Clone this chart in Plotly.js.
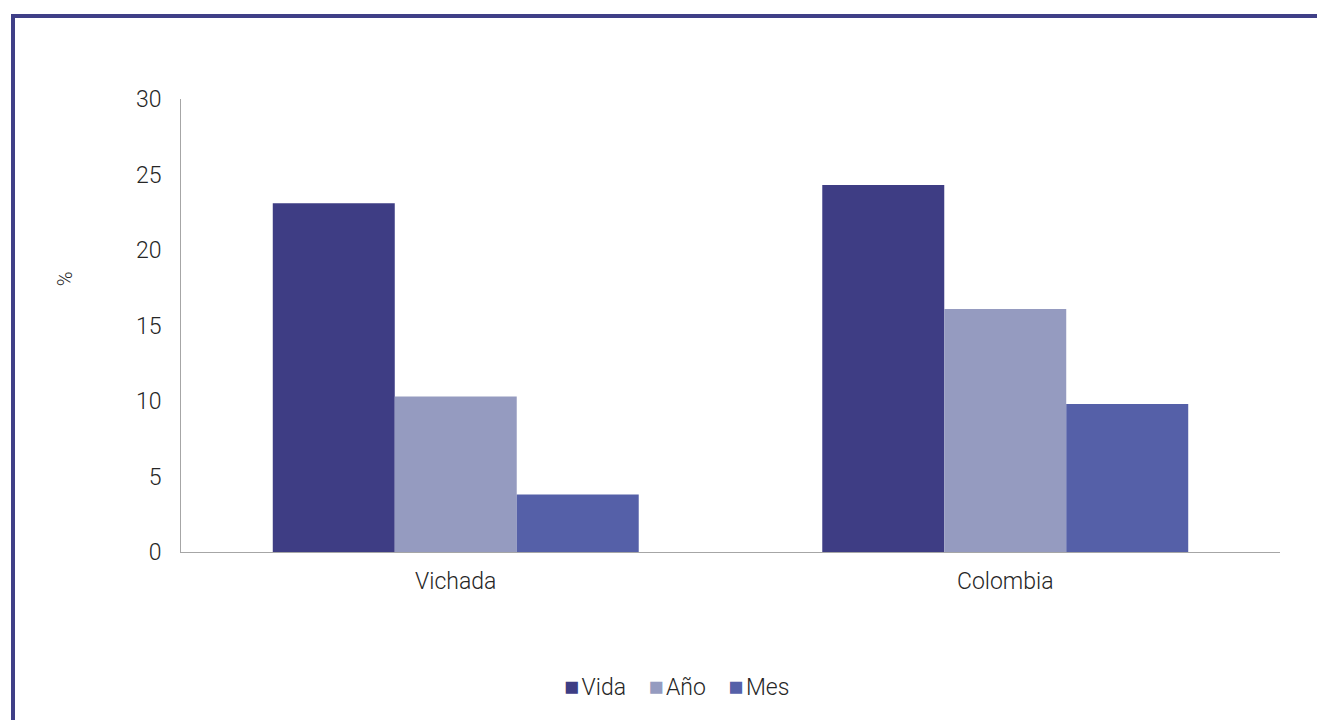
<!DOCTYPE html>
<html>
<head>
<meta charset="utf-8">
<script src="https://cdn.plot.ly/plotly-3.0.1.min.js"></script>
<style>
  html, body { margin: 0; padding: 0; background: #fff; }
  #wrap { position: relative; width: 1317px; height: 720px; overflow: hidden; }
  #chart { position: absolute; left: 0; top: 0; width: 1317px; height: 720px; }
  #btop { position: absolute; left: 11px; top: 14px; width: 1306px; height: 4px; background: #3F3F87; }
  #bleft { position: absolute; left: 11px; top: 14px; width: 4px; height: 706px; background: #3F3F87; }
</style>
</head>
<body>
<div id="wrap">
  <div id="chart"></div>
  <div id="btop"></div>
  <div id="bleft"></div>
</div>
<script>
const categories = ["Vichada", "Colombia"];
const seriesNames = ["Vida", "Año", "Mes"];
const vida = [23.1, 24.3];
const anio = [10.3, 16.1];
const mes = [3.8, 9.8];
const yTicks = [0, 5, 10, 15, 20, 25, 30];
const colors = ["#3E3D84", "#959BC0", "#5560A8"];

const font = { family: "Roboto, sans-serif", size: 23, color: "#262626", weight: 300 };

const traces = [vida, anio, mes].map((vals, i) => ({
  type: "bar",
  name: seriesNames[i],
  x: categories,
  y: vals,
  marker: { color: colors[i] },
  hoverinfo: "none"
}));

const legendText = seriesNames.map((n, i) =>
  '<span style="color:' + colors[i] + ';font-size:25px">■</span>' +
  '<span style="font-size:10px">&nbsp;</span>' + n).join('&nbsp;&nbsp;&nbsp;&nbsp;');

const layout = {
  width: 1317,
  height: 720,
  margin: { l: 181, r: 37, t: 99, b: 168 },
  paper_bgcolor: "#ffffff",
  plot_bgcolor: "#ffffff",
  font: font,
  barmode: "group",
  bargap: 0.334,
  bargroupgap: 0,
  showlegend: false,
  xaxis: {
    type: "category",
    showline: true,
    linecolor: "#A6A6A6",
    linewidth: 1,
    ticks: "",
    showgrid: false,
    zeroline: false,
    tickfont: font,
    ticklabelstandoff: 8,
    fixedrange: true
  },
  yaxis: {
    range: [0, 30],
    tickvals: yTicks,
    ticktext: yTicks.map(String),
    showline: true,
    linecolor: "#A6A6A6",
    linewidth: 1,
    ticks: "",
    showgrid: false,
    zeroline: false,
    tickfont: font,
    ticklabelstandoff: 14,
    fixedrange: true
  },
  annotations: [{
    text: "%",
    xref: "paper", yref: "paper",
    x: -0.1056, y: 0.604,
    xanchor: "center", yanchor: "middle",
    textangle: -90,
    showarrow: false,
    font: { family: "Roboto, sans-serif", size: 20, color: "#262626", weight: 300 }
  }, {
    text: legendText,
    xref: "paper", yref: "paper",
    x: 0.4505, y: -0.298,
    xanchor: "center", yanchor: "middle",
    showarrow: false,
    font: font
  }]
};

Plotly.newPlot("chart", traces, layout, { displayModeBar: false, staticPlot: true });
</script>
</body>
</html>
